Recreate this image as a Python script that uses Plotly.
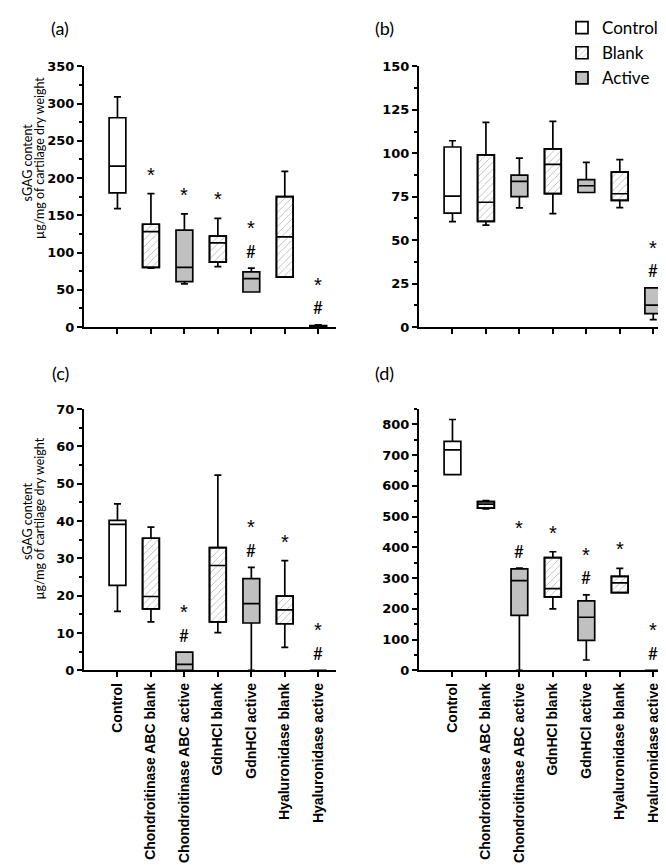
import plotly.graph_objects as go

categories = ["Control", "Chondroitinase ABC blank", "Chondroitinase ABC active",
              "GdnHCl blank", "GdnHCl active", "Hyaluronidase blank", "Hyaluronidase active"]
group_of = ["Control", "Blank", "Active", "Blank", "Active", "Blank", "Active"]

# (a)
a_lower  = [159, 79, 58, 81, 47, 67, 0]
a_q1     = [180, 80, 61, 87, 47, 67, 0.5]
a_median = [216, 128, 80, 113, 65, 121, 1]
a_q3     = [281, 138, 130, 122, 74, 175, 2]
a_upper  = [309, 179, 152, 146, 79, 209, 3]
a_star   = [0, 1, 1, 1, 1, 0, 1]
a_hash   = [0, 0, 0, 0, 1, 0, 1]
# (b)
b_lower  = [60.6, 58.6, 68.6, 65.2, 77.4, 68.7, 4.2]
b_q1     = [65.5, 60.8, 75.0, 76.8, 77.4, 72.9, 7.7]
b_median = [75.3, 71.8, 83.8, 93.6, 81.3, 76.7, 12.6]
b_q3     = [103.6, 99.1, 87.4, 102.5, 84.8, 89.1, 22.5]
b_upper  = [107.2, 117.8, 97.2, 118.3, 94.8, 96.3, 22.5]
b_star   = [0, 0, 0, 0, 0, 0, 1]
b_hash   = [0, 0, 0, 0, 0, 0, 1]
# (c)
c_lower  = [15.8, 13.0, 0, 10.1, 0, 6.2, 0]
c_q1     = [22.8, 16.5, 0, 13.0, 12.7, 12.5, 0]
c_median = [39.1, 19.8, 1.6, 28.1, 17.9, 16.2, 0]
c_q3     = [40.2, 35.4, 4.9, 32.9, 24.6, 19.9, 0]
c_upper  = [44.6, 38.4, 4.9, 52.3, 27.6, 29.4, 0]
c_star   = [0, 0, 1, 0, 1, 1, 1]
c_hash   = [0, 0, 1, 0, 1, 0, 1]
# (d)
d_lower  = [637, 525, 0, 200, 34, 253, 0]
d_q1     = [637, 528, 179, 239, 98, 253, 0]
d_median = [717, 541, 292, 266, 173, 285, 0]
d_q3     = [745, 549, 330, 367, 226, 306, 0]
d_upper  = [816, 552, 333, 386, 246, 332, 0]
d_star   = [0, 0, 1, 1, 1, 1, 1]
d_hash   = [0, 0, 1, 0, 1, 0, 1]

W, H = 666, 865
def fx(px): return px / W
def fy(py): return 1 - py / H

panels = [
    dict(lab="(a)", xa="x", ya="y", lower=a_lower, q1=a_q1, med=a_median, q3=a_q3, up=a_upper,
         star=a_star, hsh=a_hash, rng=[0, 350], dtick=50, minor=25,
         xdom=[fx(76), fx(328)], ydom=[fy(317.5), fy(52.3)], labels=False, legend=True),
    dict(lab="(b)", xa="x2", ya="y2", lower=b_lower, q1=b_q1, med=b_median, q3=b_q3, up=b_upper,
         star=b_star, hsh=b_hash, rng=[0, 150], dtick=25, minor=12.5,
         xdom=[fx(411), fx(663)], ydom=[fy(317.5), fy(52.3)], labels=False, legend=False),
    dict(lab="(c)", xa="x3", ya="y3", lower=c_lower, q1=c_q1, med=c_median, q3=c_q3, up=c_upper,
         star=c_star, hsh=c_hash, rng=[0, 70], dtick=10, minor=5,
         xdom=[fx(76), fx(328)], ydom=[fy(667), fy(401)], labels=True, legend=False),
    dict(lab="(d)", xa="x4", ya="y4", lower=d_lower, q1=d_q1, med=d_median, q3=d_q3, up=d_upper,
         star=d_star, hsh=d_hash, rng=[0, 850], dtick=100, minor=50,
         xdom=[fx(411), fx(663)], ydom=[fy(667), fy(401)], labels=True, legend=False),
]

fills = {"Control": "white", "Blank": "rgba(0,0,0,0)", "Active": "#c0c0c0"}
rank = {"Control": 1, "Blank": 2, "Active": 3}
BOXW = 0.5
LW = 1.7

fig = go.Figure()
annotations = []
layout = {}
for p in panels:
    for g in ["Control", "Blank", "Active"]:
        idx = [i for i, gg in enumerate(group_of) if gg == g]
        if g == "Blank":
            fig.add_trace(go.Bar(
                x=idx, y=[p["q3"][i] - p["q1"][i] for i in idx], base=[p["q1"][i] for i in idx],
                width=BOXW, xaxis=p["xa"], yaxis=p["ya"], name="Blank",
                showlegend=p["legend"], legendrank=rank[g],
                marker=dict(color="white", line=dict(color="black", width=LW),
                            pattern=dict(shape="/", fgcolor="#5a5a5a", bgcolor="white",
                                         size=5, solidity=0.15)),
                hoverinfo="skip"))
        fig.add_trace(go.Box(
            x=idx, q1=[p["q1"][i] for i in idx], median=[p["med"][i] for i in idx],
            q3=[p["q3"][i] for i in idx], lowerfence=[p["lower"][i] for i in idx],
            upperfence=[p["up"][i] for i in idx], width=BOXW, whiskerwidth=0.42,
            fillcolor=fills[g], line=dict(color="black", width=LW), boxpoints=False,
            xaxis=p["xa"], yaxis=p["ya"], name=g,
            showlegend=(p["legend"] and g != "Blank"), legendrank=rank[g]))
    # significance marks
    for i in range(len(categories)):
        if p["hsh"][i]:
            annotations.append(dict(x=i, y=p["up"][i], xref=p["xa"], yref=p["ya"], text="#",
                                    showarrow=False, yanchor="middle", yshift=17,
                                    font=dict(family="Lato", size=17, color="#000000")))
        if p["star"][i]:
            annotations.append(dict(x=i, y=p["up"][i], xref=p["xa"], yref=p["ya"], text="*",
                                    showarrow=False, yanchor="middle",
                                    yshift=(40 if p["hsh"][i] else 19),
                                    font=dict(family="Liberation Sans", size=20, color="#000000")))
    xk = "xaxis" + p["xa"][1:]
    yk = "yaxis" + p["ya"][1:]
    layout[xk] = dict(domain=p["xdom"], anchor=p["ya"], range=[-1, 6.53],
                      tickmode="array", tickvals=list(range(len(categories))), ticktext=categories,
                      showticklabels=p["labels"], tickangle=-90, ticks="outside", ticklen=5,
                      tickwidth=1.8, tickcolor="black", showline=True, linewidth=2,
                      linecolor="black", showgrid=False, zeroline=False,
                      tickfont=dict(family="Liberation Sans", size=14, color="black", weight="bold"))
    layout[yk] = dict(domain=p["ydom"], anchor=p["xa"], range=p["rng"], dtick=p["dtick"],
                      tick0=0, ticks="outside", ticklen=5, tickwidth=1.8, tickcolor="black",
                      showline=True, linewidth=2, linecolor="black", showgrid=False,
                      zeroline=False,
                      minor=dict(ticks="outside", ticklen=3, dtick=p["minor"], tick0=0,
                                 tickcolor="black", tickwidth=1.5, showgrid=False),
                      tickfont=dict(family="DejaVu Sans", size=13, color="black", weight="bold"))

# panel labels
for lab, x, y in [("(a)", 52, 13), ("(b)", 377, 13), ("(c)", 52, 364), ("(d)", 376, 364)]:
    annotations.append(dict(x=fx(x), y=fy(y), xref="paper", yref="paper", text=lab,
                            showarrow=False, xanchor="center", yanchor="middle",
                            font=dict(family="Lato", size=18, color="black")))
# y titles
for yc1, yc2 in [(150, 146), (515, 513)]:
    annotations.append(dict(x=fx(19), y=fy(yc1), xref="paper", yref="paper", text="sGAG content",
                            textangle=-90, showarrow=False, xanchor="center", yanchor="middle",
                            font=dict(family="Lato", size=12.5, color="black")))
    annotations.append(dict(x=fx(31.5), y=fy(yc2), xref="paper", yref="paper",
                            text="µg/mg of cartilage dry weight",
                            textangle=-90, showarrow=False, xanchor="center", yanchor="middle",
                            font=dict(family="Lato", size=12.5, color="black")))

fig.update_layout(
    width=W, height=H, margin=dict(l=0, r=0, t=0, b=0),
    paper_bgcolor="white", plot_bgcolor="white",
    barmode="overlay", boxmode="overlay",
    showlegend=True,
    legend=dict(x=fx(554), xanchor="left", y=1 + 5 / H, yanchor="top", bgcolor="rgba(0,0,0,0)",
                font=dict(family="Lato", size=17, color="black"), tracegroupgap=0,
                itemwidth=30),
    annotations=annotations,
    **layout,
)

fig.write_html("out.html")
